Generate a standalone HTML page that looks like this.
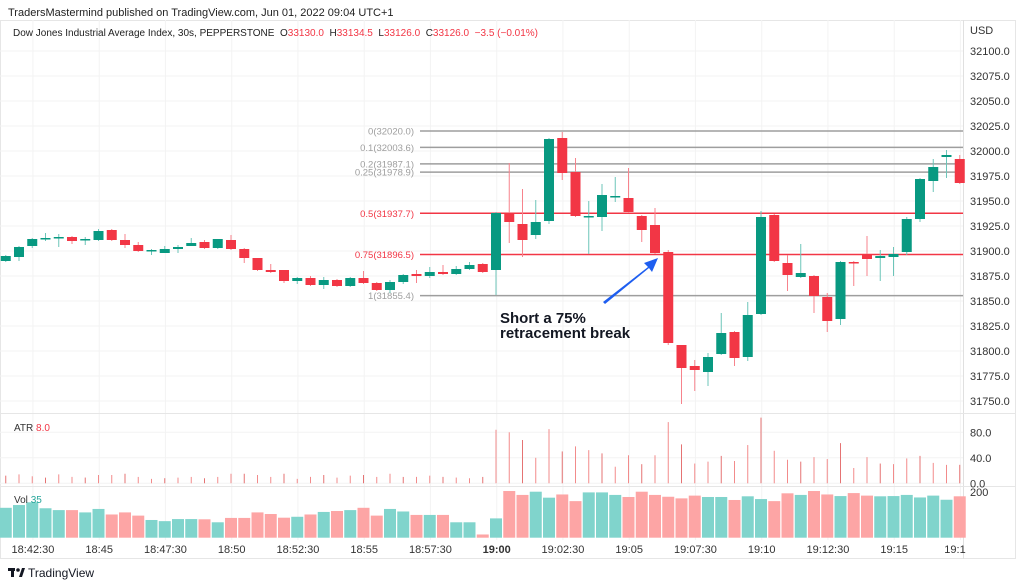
<!DOCTYPE html>
<html><head><meta charset="utf-8"><style>
html,body{margin:0;padding:0;background:#fff;width:1024px;height:586px;overflow:hidden;font-family:"Liberation Sans",sans-serif}
svg{position:absolute;left:0;top:0}
</style></head><body>
<svg id="c" width="1024" height="586"></svg>
<script>
const opens=[31890,31894,31905,31912,31913,31914,31911,31911,31921,31911,31906,31900,31898,31902,31905,31909,31903,31911,31902,31893,31881,31881,31870,31873,31866,31871,31865,31873,31868,31861,31869,31877,31875,31879,31877,31882,31887,31881,31938,31927,31916,31930,32013,31979,31934,31934,31954,31953,31935,31926,31899,31806,31785,31779,31797,31819,31794,31837,31936,31888,31874,31875,31854,31832,31889,31897,31893,31894,31899,31932,31970,31994,31992];
const closes=[31895,31904,31912,31913,31914,31910,31912,31920,31911,31906,31900,31901,31902,31904,31908,31903,31912,31902,31893,31881,31879,31870,31873,31866,31871,31865,31873,31868,31861,31869,31876,31875,31879,31877,31882,31886,31879,31938,31929,31911,31929,32012,31978,31935,31935,31956,31955,31939,31921,31898,31808,31783,31781,31794,31818,31793,31836,31934,31890,31876,31878,31855,31830,31889,31888,31892,31895,31897,31932,31972,31984,31996,31968];
const highs=[31896,31905,31913,31918,31917,31915,31914,31922,31922,31917,31909,31902,31905,31906,31913,31911,31912,31916,31903,31893,31887,31881,31874,31875,31874,31872,31874,31880,31869,31871,31877,31881,31884,31886,31885,31889,31888,31939,31988,31962,31951,32013,32019,31993,31950,31967,31974,31983,31936,31943,31901,31806,31791,31798,31838,31820,31849,31940,31937,31896,31907,31876,31858,31890,31890,31915,31901,31904,31934,31973,31992,32001,31996];
const lows=[31889,31890,31903,31910,31904,31907,31906,31910,31910,31903,31899,31896,31898,31898,31906,31902,31902,31901,31888,31880,31878,31868,31867,31865,31862,31864,31864,31867,31860,31858,31867,31868,31873,31876,31876,31881,31878,31856,31908,31894,31912,31927,31971,31934,31897,31920,31949,31938,31909,31897,31806,31747,31760,31765,31796,31785,31790,31836,31889,31860,31873,31838,31819,31826,31865,31875,31870,31875,31896,31929,31959,31973,31967];
const volumes=[130,142,154,128,120,120,110,125,101,110,96,77,72,81,81,80,67,86,86,110,103,87,91,101,112,116,120,130,96,125,114,99,99,99,67,67,14,84,203,186,200,174,188,159,197,197,186,177,200,186,178,171,183,177,177,164,180,168,159,193,186,203,188,181,194,183,180,181,186,175,183,165,180];
const atr=[12,14,11,9,14,10,9,13,13,15,10,7,8,9,10,8,10,15,15,13,10,15,7,10,13,9,12,13,10,15,10,10,12,10,9,8,10,84,80,68,40,85,50,58,52,47,26,44,30,44,96,61,31,34,43,35,60,103,51,37,34,41,38,63,24,41,31,30,39,43,32,29,29];
const priceTicks=[32100,32075,32050,32025,32000,31975,31950,31925,31900,31875,31850,31825,31800,31775,31750];
const timeLabels=["18:42:30","18:45","18:47:30","18:50","18:52:30","18:55","18:57:30","19:00","19:02:30","19:05","19:07:30","19:10","19:12:30","19:15","19:1"];
const fibLevels=[0,0.1,0.2,0.25,0.5,0.75,1];
const fibPrices=[32020.0,32003.6,31987.1,31978.9,31937.7,31896.5,31855.4];

const svg=document.getElementById('c');const NS='http://www.w3.org/2000/svg';
function mk(t,a,p){const e=document.createElementNS(NS,t);for(const k in a)e.setAttribute(k,a[k]);(p||svg).appendChild(e);return e;}
const xOf=i=>5.75+13.25*i;
const yP=p=>51+(32100-p);
const yA=v=>483.3-v*0.6375;
const yV=v=>537.7-v*0.23;
const GC='#089981',RC='#f23645';
let e;
e=mk('rect',{x:0.5,y:20.5,width:1015,height:538,fill:'none',stroke:'#e6e6e6'});

e=mk('line',{x1:963.5,y1:20,x2:963.5,y2:559,stroke:'#e0e0e0'});

priceTicks.forEach(p=>{e=mk('line',{x1:0,x2:963,y1:yP(p),y2:yP(p),stroke:'#f3f3f3'});

e=mk('text',{x:970,y:yP(p)+4,'font-size':11,fill:'#333'});e.textContent=p.toFixed(1);
});
timeLabels.forEach((t,k)=>{const x=xOf(5*k+2)+0.7;
e=mk('line',{x1:x,x2:x,y1:20,y2:540,stroke:'#f3f3f3'});

e=mk('text',{x:k==14?955:x,y:553,'font-size':11,fill:'#333','text-anchor':'middle','font-weight':t=='19:00'?'bold':'normal'});e.textContent=t;
});
e=mk('text',{x:970,y:34,'font-size':11,fill:'#333'});e.textContent='USD';

[413.5,486.5].forEach(y=>{e=mk('line',{x1:0,x2:1016,y1:y,y2:y,stroke:'#e6e6e6'});
});
[[80,'80.0'],[40,'40.0'],[0,'0.0']].forEach(a=>{e=mk('line',{x1:0,x2:963,y1:yA(a[0]),y2:yA(a[0]),stroke:'#f3f3f3'});

e=mk('text',{x:970,y:yA(a[0])+4,'font-size':11,fill:'#333'});e.textContent=a[1];
});
e=mk('text',{x:970,y:496,'font-size':11,fill:'#333'});e.textContent='200';

fibLevels.forEach((l,k)=>{const y=yP(fibPrices[k]);const red=(l==0.5||l==0.75);
e=mk('line',{x1:420,x2:963,y1:y,y2:y,stroke:red?'#f23645':'#9e9e9e','stroke-width':1.5});

e=mk('text',{x:414,y:y+3.5,'font-size':9.5,fill:red?'#f23645':'#9e9e9e','text-anchor':'end'});e.textContent=l+'('+fibPrices[k].toFixed(1)+')';
});
volumes.forEach((v,i)=>{const up=closes[i]>=opens[i];
e=mk('rect',{x:xOf(i)-6,y:yV(v),width:12,height:537.7-yV(v),fill:up?'#80d4cc':'#fda5a5'});
});
atr.forEach((v,i)=>{e=mk('line',{x1:xOf(i),x2:xOf(i),y1:yA(0),y2:yA(v),stroke:i%3==0?'#e57373':'#f28b8b','stroke-width':1});
});
opens.forEach((o,i)=>{const c=closes[i],up=c>=o,col=up?GC:RC,x=xOf(i);
e=mk('line',{x1:x,x2:x,y1:yP(highs[i]),y2:yP(lows[i]),stroke:up?'#6cc5b9':'#f7838c','stroke-width':1});

const t=yP(Math.max(o,c)),h=Math.max(1.5,Math.abs(o-c));
e=mk('rect',{x:x-5,y:t,width:10,height:h,fill:col});
});
e=mk('path',{d:'M603,302 L648,267 L644,263 L658,258 L652,272 L649,268 L605,304 Z',fill:'#1e5ef0'});

const tx=mk('text',{x:500,y:323,'font-size':15,'font-weight':'bold',fill:'#131722'});tx.textContent='Short a 75%';

const tx2=mk('text',{x:500,y:338,'font-size':15,'font-weight':'bold',fill:'#131722'});tx2.textContent='retracement break';

e=mk('text',{x:14,y:431,'font-size':10,fill:'#333'});e.innerHTML='ATR <tspan fill="#f23645">8.0</tspan>';

e=mk('text',{x:14,y:503,'font-size':10,fill:'#333'});e.innerHTML='Vol <tspan fill="#26a69a">35</tspan>';

e=mk('text',{x:8,y:16,'font-size':11,fill:'#222'});e.textContent='TradersMastermind published on TradingView.com, Jun 01, 2022 09:04 UTC+1';

e=mk('text',{x:13,y:36,'font-size':10,fill:'#222'});
e.innerHTML='Dow Jones Industrial Average Index, 30s, PEPPERSTONE&#160; O<tspan fill="#f23645">33130.0</tspan>&#160; H<tspan fill="#f23645">33134.5</tspan>&#160; L<tspan fill="#f23645">33126.0</tspan>&#160; C<tspan fill="#f23645">33126.0</tspan>&#160; <tspan fill="#f23645">−3.5 (−0.01%)</tspan>';

const lg=mk('g',{});
mk('rect',{x:8,y:568,width:7,height:3,fill:'#131722'},lg);
mk('rect',{x:11,y:568,width:3,height:9,fill:'#131722'},lg);
mk('circle',{cx:18,cy:570,r:1.8,fill:'#131722'},lg);
mk('path',{d:'M19,577 L22,568 L25,568 L22,577 Z',fill:'#131722'},lg);
e=mk('text',{x:28,y:577,'font-size':12,fill:'#131722'},lg);e.textContent='TradingView';
</script>
</body></html>
